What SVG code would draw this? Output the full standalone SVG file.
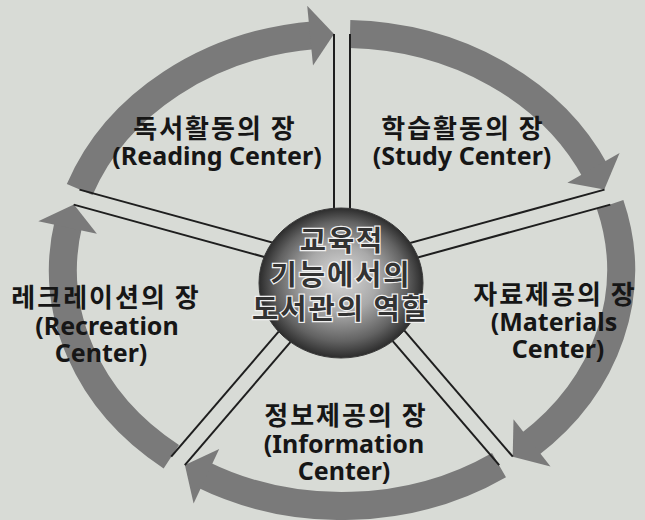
<svg xmlns="http://www.w3.org/2000/svg" width="645" height="520" viewBox="0 0 645 520">
<defs>
<radialGradient id="sph" cx="50%" cy="50%" r="50%" fx="50%" fy="45%">
<stop offset="0" stop-color="#dadada"/>
<stop offset="0.45" stop-color="#a9a9a9"/>
<stop offset="0.8" stop-color="#626262"/>
<stop offset="1" stop-color="#2c2c2c"/>
</radialGradient>
<style>
.band{fill:none;stroke:#7a7a7a;stroke-width:28;stroke-linecap:butt}
.head{fill:#7a7a7a}
.spoke{stroke:#1e1e1e;stroke-width:2;fill:none}
.ko{font-family:"Noto Sans CJK KR","Noto Sans",sans-serif;font-weight:700;font-size:26px;letter-spacing:2px;fill:#161616;text-anchor:middle}
.en{font-family:"Noto Sans","Noto Sans CJK KR",sans-serif;font-weight:700;font-size:25px;fill:#161616;text-anchor:middle}
.ctr{font-family:"Noto Sans CJK KR",sans-serif;font-weight:700;font-size:28.5px;letter-spacing:2px;fill:#333;stroke:#f0f0f0;stroke-width:2.5;paint-order:stroke;text-anchor:middle}
</style>
</defs>
<rect width="645" height="520" fill="#d8dbd6"/>
<g id="connectors">
<path class="band" d="M 79.7 189.6 A 279 236 0 0 1 315.3 35.1"/>
<polygon class="head" points="334.0,34.1 307.2,5.7 313.0,65.5"/>
<path class="band" d="M 350.0 34.1 A 279 236 0 0 1 595.7 171.8"/>
<polygon class="head" points="604.3,189.6 619.6,153.1 567.4,182.7"/>
<path class="band" d="M 610.1 204.6 A 279 236 0 0 1 528.3 445.7"/>
<polygon class="head" points="512.7,456.7 550.5,466.4 513.5,419.2"/>
<path class="band" d="M 499.0 465.1 A 279 236 0 0 1 202.1 474.2"/>
<polygon class="head" points="184.9,465.0 193.6,503.5 219.2,449.1"/>
<path class="band" d="M 171.3 456.7 A 279 236 0 0 1 68.5 223.3"/>
<polygon class="head" points="73.9,204.6 38.3,221.2 96.9,233.8"/>
<line class="spoke" x1="334" y1="34" x2="334" y2="270"/>
<line class="spoke" x1="350" y1="34" x2="350" y2="270"/>
<line class="spoke" x1="604.5" y1="189.6" x2="339.1" y2="262.5"/>
<line class="spoke" x1="610.3" y1="204.6" x2="344.9" y2="277.5"/>
<line class="spoke" x1="512.8" y1="456.7" x2="348.8" y2="265.8"/>
<line class="spoke" x1="499.2" y1="465.1" x2="335.2" y2="274.2"/>
<line class="spoke" x1="184.8" y1="465.1" x2="348.8" y2="274.2"/>
<line class="spoke" x1="171.2" y1="456.7" x2="335.2" y2="265.8"/>
<line class="spoke" x1="73.7" y1="204.6" x2="339.1" y2="277.5"/>
<line class="spoke" x1="79.5" y1="189.6" x2="344.9" y2="262.5"/>
</g>
<g id="center">
<ellipse cx="341" cy="283" rx="82" ry="75" fill="url(#sph)" stroke="#3a3a3a" stroke-width="1"/>
<text class="ctr" x="342" y="251">교육적</text>
<text class="ctr" x="341" y="285">기능에서의</text>
<text class="ctr" x="341" y="319">도서관의 역할</text>
</g>
<g id="reading">
<text class="ko" x="215" y="138">독서활동의 장</text>
<text class="en" x="217" y="165">(Reading Center)</text>
</g>
<g id="study">
<text class="ko" x="463" y="138">학습활동의 장</text>
<text class="en" x="462" y="165">(Study Center)</text>
</g>
<g id="materials">
<text class="ko" x="555" y="304">자료제공의 장</text>
<text class="en" x="554" y="331">(Materials</text>
<text class="en" x="558" y="358">Center)</text>
</g>
<g id="information">
<text class="ko" x="346" y="425">정보제공의 장</text>
<text class="en" x="344" y="453">(Information</text>
<text class="en" x="344" y="480">Center)</text>
</g>
<g id="recreation">
<text class="ko" x="106" y="307">레크레이션의 장</text>
<text class="en" x="107" y="335">(Recreation</text>
<text class="en" x="101" y="362">Center)</text>
</g>
</svg>
